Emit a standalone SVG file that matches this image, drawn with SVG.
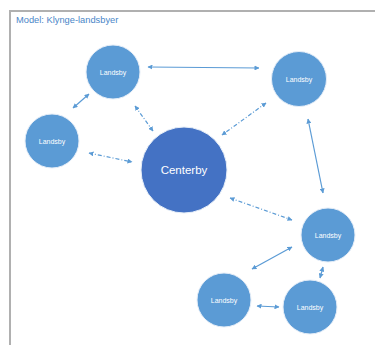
<svg xmlns="http://www.w3.org/2000/svg" width="375" height="345" viewBox="0 0 375 345">
<defs>
<marker id="ah" viewBox="0 0 10 10" refX="9" refY="5" markerWidth="5" markerHeight="5" orient="auto-start-reverse" markerUnits="userSpaceOnUse">
<path d="M0,0 L10,5 L0,10 z" fill="#5b9bd5"/>
</marker>
<style>
.v{fill:#5b9bd5;stroke:#e6eef8;stroke-width:1}
.c{fill:#4472c4;stroke:#e6eef8;stroke-width:1}
.lt{font-family:"Liberation Sans",Arial,sans-serif;font-size:7px;fill:#fff;text-anchor:middle}
.ct{font-family:"Liberation Sans",Arial,sans-serif;font-size:11.5px;fill:#fff;text-anchor:middle}
.s{stroke:#5b9bd5;stroke-width:1.2;fill:none;marker-start:url(#ah);marker-end:url(#ah)}
.d{stroke-dasharray:4 2 1 2}
</style>
</defs>
<rect width="375" height="345" fill="#fff"/>
<path d="M10,345 V11 H375" fill="none" stroke="#b0b0b0" stroke-width="2"/>
<text x="16" y="23" font-family="'Liberation Sans',Arial,sans-serif" font-size="9.3" fill="#4a86c8">Model: Klynge-landsbyer</text>
<g id="connectors">
<line class="s" x1="148" y1="67" x2="259" y2="68"/>
<line class="s" x1="73" y1="108" x2="89" y2="94"/>
<line class="s d" x1="135" y1="106" x2="153" y2="131"/>
<line class="s d" x1="89" y1="153" x2="132" y2="162"/>
<line class="s d" x1="266" y1="103" x2="222" y2="135"/>
<line class="s" x1="308" y1="119" x2="323" y2="193"/>
<line class="s d" x1="230" y1="198" x2="292" y2="220"/>
<line class="s" x1="292" y1="247" x2="252" y2="269"/>
<line class="s" x1="323" y1="267" x2="320" y2="278"/>
<line class="s" x1="257" y1="306" x2="279" y2="307"/>
</g>
<g id="n1"><circle class="v" cx="113" cy="72" r="27"/><text class="lt" x="113" y="74.5">Landsby</text></g>
<g id="n2"><circle class="v" cx="299" cy="79" r="27.5"/><text class="lt" x="299" y="81.5">Landsby</text></g>
<g id="n3"><circle class="v" cx="52" cy="141" r="27"/><text class="lt" x="52" y="143.5">Landsby</text></g>
<g id="center"><circle class="c" cx="184" cy="170" r="43"/><text class="ct" x="184" y="174">Centerby</text></g>
<g id="n4"><circle class="v" cx="328" cy="235" r="27"/><text class="lt" x="328" y="237.5">Landsby</text></g>
<g id="n5"><circle class="v" cx="224" cy="300" r="27"/><text class="lt" x="224" y="302.5">Landsby</text></g>
<g id="n6"><circle class="v" cx="310" cy="307" r="27"/><text class="lt" x="310" y="309.5">Landsby</text></g>
</svg>
